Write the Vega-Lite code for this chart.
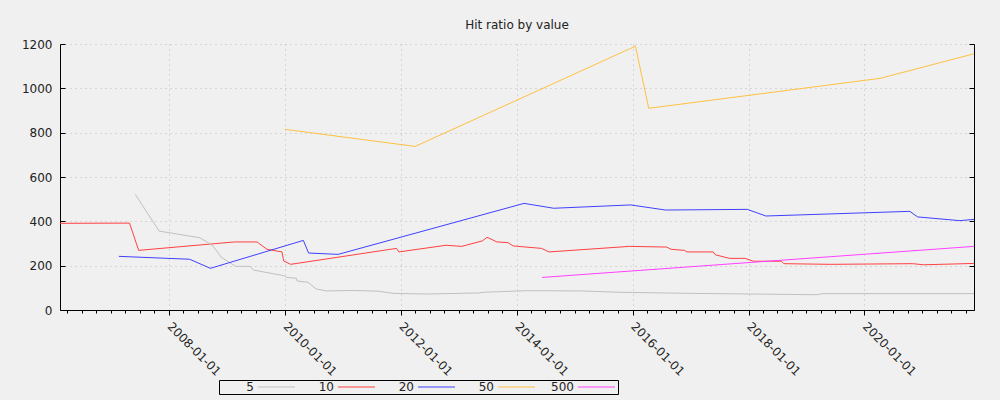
{
  "$schema": "https://vega.github.io/schema/vega-lite/v6.json",
  "width": 914,
  "height": 266,
  "autosize": "none",
  "padding": {"left": 60, "top": 44, "right": 26, "bottom": 90},
  "background": "#f0f0f0",
  "title": {"text": "Hit ratio by value", "fontSize": 12, "fontWeight": "normal", "color": "#222222", "baseline": "bottom", "offset": -6, "anchor": "middle"},
  "config": {
    "font": "DejaVu Sans",
    "view": {"stroke": null},
    "axis": {"labelFont": "DejaVu Sans", "labelFontSize": 12, "labelColor": "#222222", "domainColor": "#000000", "tickColor": "#000000", "gridColor": "#bbbbbb", "gridDash": [1, 4], "gridWidth": 1, "title": null}
  },
  "data": {"values": [
    {"date": "2006-02-13", "series": "10", "ratio": 391},
    {"date": "2007-04-27", "series": "10", "ratio": 392},
    {"date": "2007-06-24", "series": "10", "ratio": 269},
    {"date": "2009-02-16", "series": "10", "ratio": 307},
    {"date": "2009-07-09", "series": "10", "ratio": 307},
    {"date": "2009-09-09", "series": "10", "ratio": 274},
    {"date": "2009-12-13", "series": "10", "ratio": 262},
    {"date": "2009-12-24", "series": "10", "ratio": 221},
    {"date": "2010-02-06", "series": "10", "ratio": 206},
    {"date": "2011-12-05", "series": "10", "ratio": 278},
    {"date": "2011-12-20", "series": "10", "ratio": 262},
    {"date": "2012-10-12", "series": "10", "ratio": 292},
    {"date": "2013-01-19", "series": "10", "ratio": 287},
    {"date": "2013-05-30", "series": "10", "ratio": 312},
    {"date": "2013-06-28", "series": "10", "ratio": 328},
    {"date": "2013-08-29", "series": "10", "ratio": 307},
    {"date": "2013-11-06", "series": "10", "ratio": 304},
    {"date": "2013-12-09", "series": "10", "ratio": 289},
    {"date": "2014-06-06", "series": "10", "ratio": 278},
    {"date": "2014-07-23", "series": "10", "ratio": 262},
    {"date": "2015-12-13", "series": "10", "ratio": 287},
    {"date": "2016-08-03", "series": "10", "ratio": 284},
    {"date": "2016-08-29", "series": "10", "ratio": 274},
    {"date": "2016-11-24", "series": "10", "ratio": 269},
    {"date": "2016-12-09", "series": "10", "ratio": 262},
    {"date": "2017-05-23", "series": "10", "ratio": 262},
    {"date": "2017-06-06", "series": "10", "ratio": 249},
    {"date": "2017-09-02", "series": "10", "ratio": 233},
    {"date": "2017-12-09", "series": "10", "ratio": 233},
    {"date": "2018-02-02", "series": "10", "ratio": 220},
    {"date": "2018-07-27", "series": "10", "ratio": 220},
    {"date": "2018-08-11", "series": "10", "ratio": 209},
    {"date": "2019-06-01", "series": "10", "ratio": 206},
    {"date": "2020-11-01", "series": "10", "ratio": 209},
    {"date": "2021-01-08", "series": "10", "ratio": 204},
    {"date": "2021-11-22", "series": "10", "ratio": 210},

    {"date": "2007-06-02", "series": "5", "ratio": 522},
    {"date": "2007-10-31", "series": "5", "ratio": 356},
    {"date": "2008-07-12", "series": "5", "ratio": 326},
    {"date": "2008-08-25", "series": "5", "ratio": 308},
    {"date": "2008-10-08", "series": "5", "ratio": 286},
    {"date": "2008-11-25", "series": "5", "ratio": 238},
    {"date": "2009-02-24", "series": "5", "ratio": 197},
    {"date": "2009-05-26", "series": "5", "ratio": 197},
    {"date": "2009-06-17", "series": "5", "ratio": 180},
    {"date": "2009-12-24", "series": "5", "ratio": 155},
    {"date": "2010-01-12", "series": "5", "ratio": 147},
    {"date": "2010-03-15", "series": "5", "ratio": 143},
    {"date": "2010-03-18", "series": "5", "ratio": 131},
    {"date": "2010-05-27", "series": "5", "ratio": 125},
    {"date": "2010-07-16", "series": "5", "ratio": 95},
    {"date": "2010-09-20", "series": "5", "ratio": 86},
    {"date": "2011-03-01", "series": "5", "ratio": 88},
    {"date": "2011-08-11", "series": "5", "ratio": 85},
    {"date": "2011-11-14", "series": "5", "ratio": 75},
    {"date": "2012-06-20", "series": "5", "ratio": 72},
    {"date": "2013-05-11", "series": "5", "ratio": 77},
    {"date": "2013-06-03", "series": "5", "ratio": 80},
    {"date": "2014-03-03", "series": "5", "ratio": 87},
    {"date": "2015-02-02", "series": "5", "ratio": 86},
    {"date": "2015-10-12", "series": "5", "ratio": 80},
    {"date": "2017-01-08", "series": "5", "ratio": 75},
    {"date": "2019-03-07", "series": "5", "ratio": 69},
    {"date": "2019-04-16", "series": "5", "ratio": 74},
    {"date": "2021-11-22", "series": "5", "ratio": 74},

    {"date": "2007-02-19", "series": "20", "ratio": 242},
    {"date": "2008-05-10", "series": "20", "ratio": 229},
    {"date": "2008-09-18", "series": "20", "ratio": 188},
    {"date": "2010-04-27", "series": "20", "ratio": 314},
    {"date": "2010-05-30", "series": "20", "ratio": 257},
    {"date": "2010-12-02", "series": "20", "ratio": 251},
    {"date": "2014-02-16", "series": "20", "ratio": 481},
    {"date": "2014-08-22", "series": "20", "ratio": 459},
    {"date": "2015-12-20", "series": "20", "ratio": 474},
    {"date": "2016-07-26", "series": "20", "ratio": 451},
    {"date": "2017-12-24", "series": "20", "ratio": 454},
    {"date": "2018-04-20", "series": "20", "ratio": 424},
    {"date": "2020-10-14", "series": "20", "ratio": 445},
    {"date": "2020-12-01", "series": "20", "ratio": 420},
    {"date": "2021-08-25", "series": "20", "ratio": 403},
    {"date": "2021-11-22", "series": "20", "ratio": 409},

    {"date": "2010-01-01", "series": "50", "ratio": 815},
    {"date": "2012-04-01", "series": "50", "ratio": 738},
    {"date": "2016-01-19", "series": "50", "ratio": 1190},
    {"date": "2016-04-12", "series": "50", "ratio": 910},
    {"date": "2020-04-09", "series": "50", "ratio": 1045},
    {"date": "2021-11-22", "series": "50", "ratio": 1156},

    {"date": "2014-06-10", "series": "500", "ratio": 147},
    {"date": "2021-11-22", "series": "500", "ratio": 287}
  ]},
  "encoding": {
    "x": {
      "field": "date", "type": "temporal",
      "scale": {"type": "utc", "nice": false},
      "axis": {
        "orient": "bottom",
        "tickCount": {"interval": "month", "step": 3},
        "labelExpr": "utcmonth(datum.value) == 0 && utcyear(datum.value) % 2 == 0 ? utcFormat(datum.value, '%Y-%m-%d') : ''",
        "labelOverlap": false,
        "labelAngle": 45,
        "labelAlign": "left",
        "labelBaseline": "middle",
        "labelPadding": 9,
        "labelFlush": false,
        "grid": true,
        "gridOpacity": {"condition": {"test": "utcmonth(datum.value) == 0 && utcyear(datum.value) % 2 == 0", "value": 1}, "value": 0},
        "tickSize": {"condition": {"test": "utcmonth(datum.value) == 0 && utcyear(datum.value) % 2 == 0", "value": 5}, "value": 3}
      }
    },
    "color": {
      "field": "series", "type": "nominal",
      "sort": ["5", "10", "20", "50", "500"],
      "scale": {"domain": ["5", "10", "20", "50", "500"], "range": ["#c0c0c0", "#ff4040", "#4040ff", "#ffc040", "#ff40ff"]},
      "legend": {
        "title": null,
        "orient": "none",
        "legendX": 159,
        "legendY": 336,
        "direction": "horizontal",
        "columns": 5,
        "gridAlign": "all",
        "symbolType": "M-9.25,0H9.25",
        "symbolSize": 16,
        "symbolStrokeWidth": 1,
        "symbolOpacity": 1,
        "symbolOffset": 50.5,
        "labelFontSize": 12,
        "labelColor": "#222222",
        "labelAlign": "right",
        "labelBaseline": "middle",
        "labelOffset": -28.5,
        "columnPadding": 3,
        "strokeColor": "#000000",
        "padding": 1
      }
    }
  },
  "layer": [
    {
      "mark": {"type": "line", "strokeWidth": 1, "interpolate": "linear"},
      "encoding": {
        "y": {"field": "ratio", "type": "quantitative",
          "scale": {"domain": [0, 1200], "nice": false},
          "axis": {"orient": "left", "values": [0, 200, 400, 600, 800, 1000, 1200], "format": "d", "tickSize": -5, "labelPadding": 13, "grid": true}}
      }
    },
    {
      "mark": {"type": "line", "strokeWidth": 1, "opacity": 0},
      "encoding": {
        "y": {"field": "ratio", "type": "quantitative",
          "scale": {"domain": [0, 1200], "nice": false},
          "axis": {"orient": "right", "values": [0, 200, 400, 600, 800, 1000, 1200], "tickSize": -5, "labels": false, "grid": false}}
      }
    }
  ],
  "resolve": {"axis": {"y": "independent"}}
}
